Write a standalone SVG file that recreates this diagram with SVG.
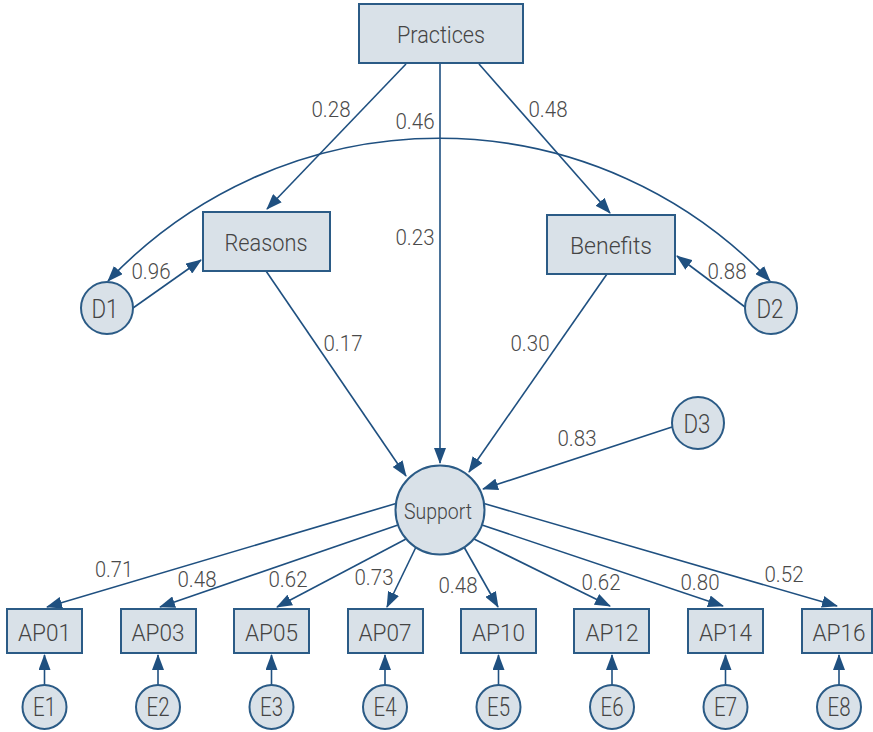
<svg xmlns="http://www.w3.org/2000/svg" width="873" height="732" viewBox="0 0 873 732">
<style>
.box{fill:#d9e1e8;stroke:#2b5b86;stroke-width:2}
.c{fill:#d9e1e8;stroke:#2b5b86;stroke-width:2}
.t{font-family:Roboto,"Liberation Sans",sans-serif;font-weight:300;fill:#444;text-anchor:middle}
.n{font-size:24.5px}
.s{font-size:26px}
.l{font-family:Roboto,"Liberation Sans",sans-serif;font-weight:300;fill:#4a4a4a;font-size:22px;text-anchor:middle}
.e{fill:none;stroke:#1f5080;stroke-width:1.6;marker-end:url(#ah)}
</style>
<defs>
<marker id="ah" markerUnits="userSpaceOnUse" markerWidth="16" markerHeight="12" viewBox="0 0 16 12" refX="15" refY="6" orient="auto-start-reverse">
<path d="M0,0 L16,6 L0,12 z" fill="#1f5080"/>
</marker>
</defs>
<g id="connectors">
<path class="e" d="M406,64 L267,209"/>
<path class="e" d="M440,64 L440,463"/>
<path class="e" d="M479,64 L610,213"/>
<path class="e" d="M266,271 L406,476"/>
<path class="e" d="M607,274 L469,472"/>
<path class="e" d="M672,427 L483,489"/>
<path class="e" d="M133,308 L201,260"/>
<path class="e" d="M745,307 L677,256"/>
<path class="e" style="marker-start:url(#ah)" d="M108,281 A455,455 0 0 1 770,281"/>
<path class="e" d="M396,503.5 L47,607"/>
<path class="e" d="M398,525 L160,607"/>
<path class="e" d="M406,539 L277,607"/>
<path class="e" d="M416,547 L387,607"/>
<path class="e" d="M464,547 L498,607"/>
<path class="e" d="M474,539 L610,606"/>
<path class="e" d="M482,525 L723,606"/>
<path class="e" d="M484,503.5 L837,606"/>
<path class="e" d="M44.5,685 L44.5,655"/>
<path class="e" d="M158,685 L158,655"/>
<path class="e" d="M271.5,685 L271.5,655"/>
<path class="e" d="M385,685 L385,655"/>
<path class="e" d="M498.5,685 L498.5,655"/>
<path class="e" d="M612,685 L612,655"/>
<path class="e" d="M725.5,685 L725.5,655"/>
<path class="e" d="M839,685 L839,655"/>
</g>
<g id="labels">
<text class="l" x="331" y="117" textLength="39" lengthAdjust="spacingAndGlyphs">0.28</text>
<text class="l" x="415" y="129" textLength="39" lengthAdjust="spacingAndGlyphs">0.46</text>
<text class="l" x="548" y="117" textLength="39" lengthAdjust="spacingAndGlyphs">0.48</text>
<text class="l" x="415" y="245" textLength="39" lengthAdjust="spacingAndGlyphs">0.23</text>
<text class="l" x="151" y="279" textLength="39" lengthAdjust="spacingAndGlyphs">0.96</text>
<text class="l" x="727" y="279" textLength="39" lengthAdjust="spacingAndGlyphs">0.88</text>
<text class="l" x="343" y="351" textLength="39" lengthAdjust="spacingAndGlyphs">0.17</text>
<text class="l" x="530" y="351" textLength="39" lengthAdjust="spacingAndGlyphs">0.30</text>
<text class="l" x="577" y="446" textLength="39" lengthAdjust="spacingAndGlyphs">0.83</text>
<text class="l" x="114" y="577" textLength="38" lengthAdjust="spacingAndGlyphs">0.71</text>
<text class="l" x="197" y="587" textLength="39" lengthAdjust="spacingAndGlyphs">0.48</text>
<text class="l" x="288" y="587" textLength="39" lengthAdjust="spacingAndGlyphs">0.62</text>
<text class="l" x="374" y="585" textLength="39" lengthAdjust="spacingAndGlyphs">0.73</text>
<text class="l" x="458" y="593" textLength="39" lengthAdjust="spacingAndGlyphs">0.48</text>
<text class="l" x="601" y="590" textLength="39" lengthAdjust="spacingAndGlyphs">0.62</text>
<text class="l" x="700" y="590" textLength="39" lengthAdjust="spacingAndGlyphs">0.80</text>
<text class="l" x="784" y="582" textLength="39" lengthAdjust="spacingAndGlyphs">0.52</text>
</g>
<g id="Practices"><rect class="box" x="359" y="4" width="164" height="59"/><text class="t n" x="441" y="43" textLength="88" lengthAdjust="spacingAndGlyphs">Practices</text></g>
<g id="Reasons"><rect class="box" x="203" y="212" width="127" height="59"/><text class="t n" x="266" y="251" textLength="83" lengthAdjust="spacingAndGlyphs">Reasons</text></g>
<g id="Benefits"><rect class="box" x="547" y="215" width="128" height="59"/><text class="t n" x="611" y="254" textLength="82" lengthAdjust="spacingAndGlyphs">Benefits</text></g>
<g id="D1"><circle class="c" cx="107" cy="308" r="26"/><text class="t s" x="105" y="318" textLength="27" lengthAdjust="spacingAndGlyphs">D1</text></g>
<g id="D2"><circle class="c" cx="771" cy="308" r="26"/><text class="t s" x="770" y="318" textLength="27" lengthAdjust="spacingAndGlyphs">D2</text></g>
<g id="D3"><circle class="c" cx="698" cy="423" r="26"/><text class="t s" x="697" y="433" textLength="27" lengthAdjust="spacingAndGlyphs">D3</text></g>
<g id="Support"><circle class="c" cx="440" cy="510" r="44.5"/><text class="t" style="font-size:22px" x="438" y="519" textLength="68" lengthAdjust="spacingAndGlyphs">Support</text></g>
<g id="AP01"><rect class="box" x="7" y="609" width="75" height="44"/><text class="t n" x="44.5" y="641" textLength="53" lengthAdjust="spacingAndGlyphs">AP01</text></g>
<g id="AP03"><rect class="box" x="121" y="609" width="75" height="44"/><text class="t n" x="158" y="641" textLength="53" lengthAdjust="spacingAndGlyphs">AP03</text></g>
<g id="AP05"><rect class="box" x="234" y="609" width="75" height="44"/><text class="t n" x="271.5" y="641" textLength="53" lengthAdjust="spacingAndGlyphs">AP05</text></g>
<g id="AP07"><rect class="box" x="348" y="609" width="75" height="44"/><text class="t n" x="385" y="641" textLength="53" lengthAdjust="spacingAndGlyphs">AP07</text></g>
<g id="AP10"><rect class="box" x="461" y="609" width="75" height="44"/><text class="t n" x="498.5" y="641" textLength="53" lengthAdjust="spacingAndGlyphs">AP10</text></g>
<g id="AP12"><rect class="box" x="574" y="609" width="75" height="44"/><text class="t n" x="612" y="641" textLength="53" lengthAdjust="spacingAndGlyphs">AP12</text></g>
<g id="AP14"><rect class="box" x="688" y="609" width="75" height="44"/><text class="t n" x="725.5" y="641" textLength="53" lengthAdjust="spacingAndGlyphs">AP14</text></g>
<g id="AP16"><rect class="box" x="802" y="609" width="70" height="44"/><text class="t n" x="839" y="641" textLength="53" lengthAdjust="spacingAndGlyphs">AP16</text></g>
<g id="E1"><circle class="c" cx="44.5" cy="707" r="22"/><text class="t s" x="44.5" y="716" textLength="23" lengthAdjust="spacingAndGlyphs">E1</text></g>
<g id="E2"><circle class="c" cx="158" cy="707" r="22"/><text class="t s" x="158" y="716" textLength="23" lengthAdjust="spacingAndGlyphs">E2</text></g>
<g id="E3"><circle class="c" cx="271.5" cy="707" r="22"/><text class="t s" x="271.5" y="716" textLength="23" lengthAdjust="spacingAndGlyphs">E3</text></g>
<g id="E4"><circle class="c" cx="385" cy="707" r="22"/><text class="t s" x="385" y="716" textLength="23" lengthAdjust="spacingAndGlyphs">E4</text></g>
<g id="E5"><circle class="c" cx="498.5" cy="707" r="22"/><text class="t s" x="498.5" y="716" textLength="23" lengthAdjust="spacingAndGlyphs">E5</text></g>
<g id="E6"><circle class="c" cx="612" cy="707" r="22"/><text class="t s" x="612" y="716" textLength="23" lengthAdjust="spacingAndGlyphs">E6</text></g>
<g id="E7"><circle class="c" cx="725.5" cy="707" r="22"/><text class="t s" x="725.5" y="716" textLength="23" lengthAdjust="spacingAndGlyphs">E7</text></g>
<g id="E8"><circle class="c" cx="839" cy="707" r="22"/><text class="t s" x="839" y="716" textLength="23" lengthAdjust="spacingAndGlyphs">E8</text></g>
</svg>
